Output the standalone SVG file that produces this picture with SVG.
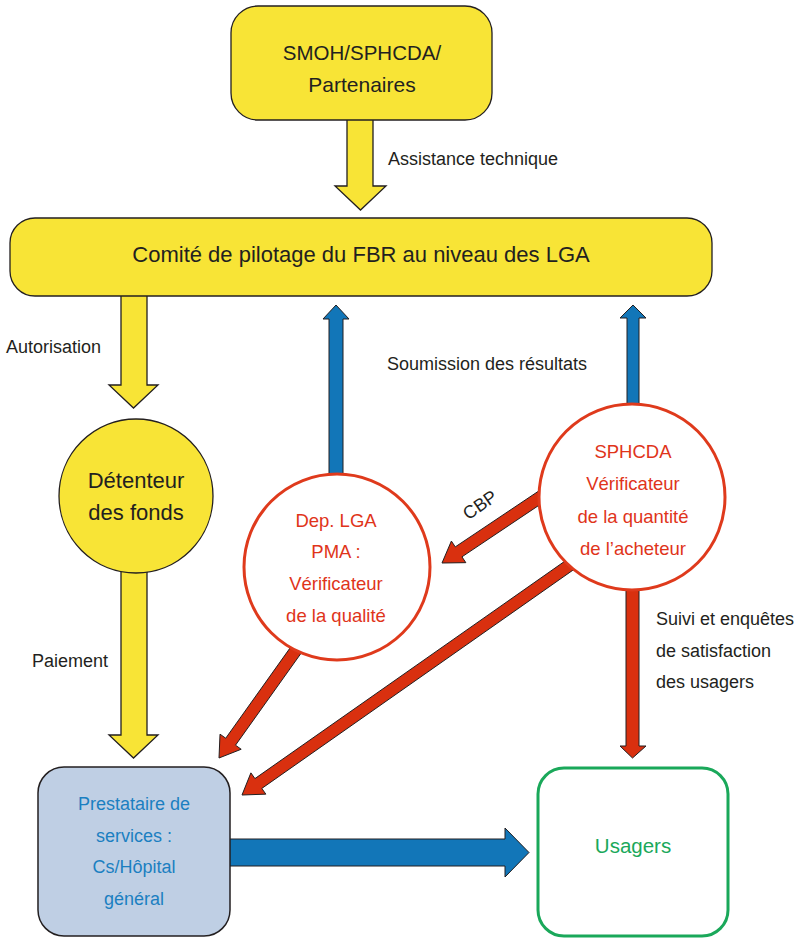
<svg xmlns="http://www.w3.org/2000/svg" width="799" height="938" viewBox="0 0 799 938">
<style>
  .yel { fill: #f8e436; stroke: #231f20; stroke-width: 1.3; }
  .blu { fill: #1276b8; stroke: #231f20; stroke-width: 1; }
  .red { fill: #d9300f; stroke: #231f20; stroke-width: 1; }
  .rcirc { fill: #ffffff; stroke: #df3a1c; stroke-width: 3; }
  .prest { fill: #bfcfe4; stroke: #231f20; stroke-width: 1.5; }
  .usag { fill: #ffffff; stroke: #1aa85a; stroke-width: 3; }
  text { font-family: "Liberation Sans", Arial, sans-serif; }
  .lbl { font-size: 18px; fill: #231f20; }
  .blk { fill: #231f20; text-anchor: middle; }
  .rt { font-size: 18.5px; fill: #e0341a; text-anchor: middle; }
  .bt { font-size: 18px; fill: #1b7fc1; text-anchor: middle; }
  .gt { font-size: 20.5px; fill: #1aa85a; text-anchor: middle; }
</style>

<g id="connectors">
  <!-- Assistance technique -->
  <polygon class="yel" points="347,110 373,110 373,186 386,186 360.5,210 335,186 347,186"/>
  <!-- Autorisation -->
  <polygon class="yel" points="121,285 147,285 147,385 158,385 133.5,408 109,385 121,385"/>
  <!-- Paiement -->
  <polygon class="yel" points="121,560 147,560 147,735 158,735 133.5,758 109,735 121,735"/>
  <!-- Soumission (Dep LGA) -->
  <polygon class="blu" points="329,500 343,500 343,319 349,319 336,305 323,319 329,319"/>
  <!-- Soumission (SPHCDA) -->
  <polygon class="blu" points="627,450 639,450 639,318 646,318 633,305 620,318 627,318"/>
  <!-- Prestataire -> Usagers -->
  <polygon class="blu" points="220,839 505,839 505,828 529,852.5 505,877 505,866 220,866"/>
  <!-- CBP: SPHCDA -> Dep LGA -->
  <polygon class="red" points="555.27,479.92 455.27,546.89 451.38,541.07 442,563 465.84,562.67 461.95,556.85 561.95,489.88"/>
  <!-- Dep LGA -> Prestataire -->
  <polygon class="red" points="308.51,622.12 225.72,738.23 220.02,734.16 219,758 241.20,749.26 235.50,745.19 318.29,629.08"/>
  <!-- SPHCDA -> Prestataire -->
  <polygon class="red" points="584.05,547.69 254.92,778.60 250.90,772.87 242,795 265.84,794.15 261.82,788.42 590.95,557.51"/>
  <!-- SPHCDA -> Usagers -->
  <polygon class="red" points="626,560 639,560 639,746 646,746 632.5,758 620,746 626,746"/>
</g>

<g id="labels">
  <text class="lbl" x="388" y="165">Assistance technique</text>
  <text class="lbl" x="6" y="353">Autorisation</text>
  <text class="lbl" x="387" y="370">Soumission des résultats</text>
  <text class="lbl" x="32" y="667">Paiement</text>
  <text class="lbl" x="480" y="511" text-anchor="middle" transform="rotate(-35 480 505)">CBP</text>
  <text class="lbl" x="656" y="625">Suivi et enquêtes</text>
  <text class="lbl" x="656" y="657">de satisfaction</text>
  <text class="lbl" x="656" y="688">des usagers</text>
</g>

<g id="node-smoh">
  <rect class="yel" x="231" y="6" width="261" height="114" rx="27" ry="27"/>
  <text class="blk" x="362" y="60" font-size="20.5">SMOH/SPHCDA/</text>
  <text class="blk" x="362" y="92" font-size="21">Partenaires</text>
</g>

<g id="node-comite">
  <rect class="yel" x="10" y="218" width="702" height="78" rx="25" ry="25"/>
  <text class="blk" x="361" y="262" font-size="22">Comité de pilotage du FBR au niveau des LGA</text>
</g>

<g id="node-detenteur">
  <circle class="yel" cx="136" cy="496" r="77"/>
  <text class="blk" x="136" y="488" font-size="22">Détenteur</text>
  <text class="blk" x="136" y="520" font-size="22">des fonds</text>
</g>

<g id="node-deplga">
  <circle class="rcirc" cx="337" cy="567" r="93"/>
  <text class="rt" x="336" y="527">Dep. LGA</text>
  <text class="rt" x="336" y="558">PMA :</text>
  <text class="rt" x="336" y="590">Vérificateur</text>
  <text class="rt" x="336" y="622">de la qualité</text>
</g>

<g id="node-sphcda">
  <circle class="rcirc" cx="632" cy="497" r="93"/>
  <text class="rt" x="633" y="458">SPHCDA</text>
  <text class="rt" x="633" y="490">Vérificateur</text>
  <text class="rt" x="633" y="523">de la quantité</text>
  <text class="rt" x="633" y="555">de l’acheteur</text>
</g>

<g id="node-prestataire">
  <rect class="prest" x="38" y="767" width="192" height="169" rx="26" ry="26"/>
  <text class="bt" x="134" y="810">Prestataire de</text>
  <text class="bt" x="134" y="842">services :</text>
  <text class="bt" x="134" y="873">Cs/Hôpital</text>
  <text class="bt" x="134" y="905">général</text>
</g>

<g id="node-usagers">
  <rect class="usag" x="538" y="768" width="190" height="168" rx="26" ry="26"/>
  <text class="gt" x="633" y="853">Usagers</text>
</g>
</svg>
